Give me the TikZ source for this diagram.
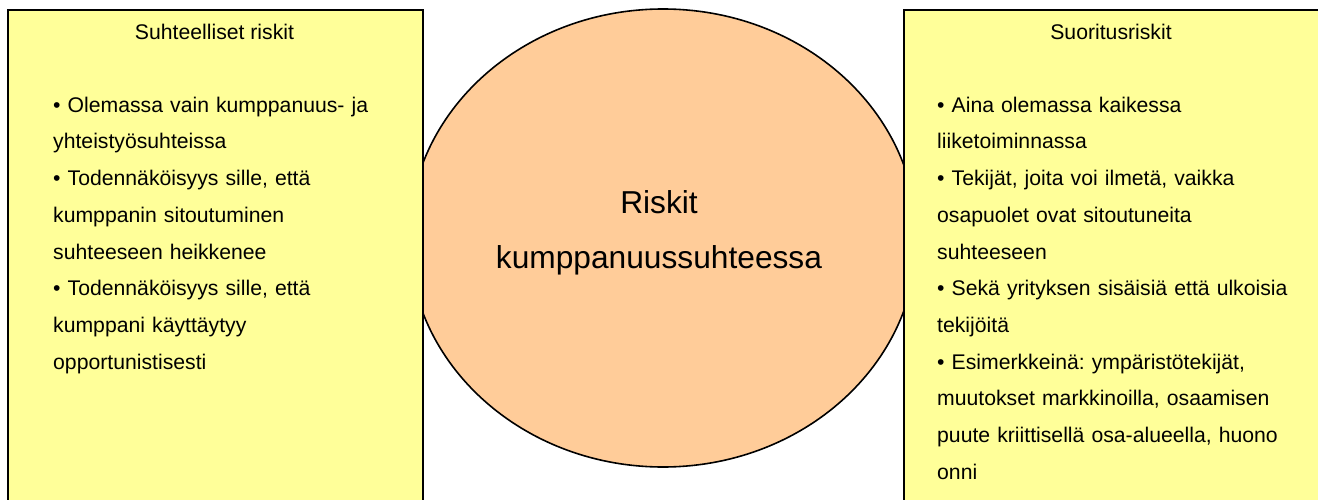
\documentclass[tikz,border=0pt]{standalone}
\usepackage{fontspec}
\setmainfont{Liberation Sans}
\usetikzlibrary{shapes.geometric}
\definecolor{paleyellow}{HTML}{FFFF99}
\definecolor{peach}{HTML}{FFCC99}
\frenchspacing
\tikzset{
  panel/.style={draw=black, line width=2pt, fill=paleyellow, rectangle,
    anchor=north west, minimum height=520pt, inner sep=0pt},
  core/.style={draw=black, line width=1.6pt, fill=peach, ellipse,
    minimum width=508pt, minimum height=458pt, inner sep=0pt},
  heading/.style={anchor=base, inner sep=0pt, font=\fontsize{21.2}{25}\selectfont},
  body/.style={anchor=base west, inner sep=0pt, align=left,
    font=\fontsize{21.2}{36.7}\selectfont},
  centre/.style={anchor=base, inner sep=0pt, align=center, text width=420pt,
    font=\fontsize{31.7}{55}\selectfont}
}
\begin{document}
\begin{tikzpicture}[x=1pt, y=-1pt]
  \useasboundingbox (0,0) rectangle (1318,500);
  \clip (0,0) rectangle (1318,500);

  % central ellipse, partly hidden behind the two panels
  \node[core] (core) at (663,238) {};
  \node[centre] (coretext) at (659,213.3) {Riskit\\kumppanuussuhteessa};

  % left panel
  \node[panel, minimum width=415pt] (lpanel) at (7,9) {};
  \node[heading] (ltitle) at (214.5,39.3) {Suhteelliset riskit};
  \node[body, text width=360pt] (lbody) at (53,112.3) {%
    • Olemassa vain kumppanuus- ja\\
    yhteistyösuhteissa\\
    • Todennäköisyys sille, että\\
    kumppanin sitoutuminen\\
    suhteeseen heikkenee\\
    • Todennäköisyys sille, että\\
    kumppani käyttäytyy\\
    opportunistisesti};

  % right panel, running past the right edge
  \node[panel, minimum width=460pt] (rpanel) at (903,9) {};
  \node[heading] (rtitle) at (1111,39.3) {Suoritusriskit};
  \node[body, text width=375pt] (rbody) at (937,112.3) {%
    • Aina olemassa kaikessa\\
    liiketoiminnassa\\
    • Tekijät, joita voi ilmetä, vaikka\\
    osapuolet ovat sitoutuneita\\
    suhteeseen\\
    • Sekä yrityksen sisäisiä että ulkoisia\\
    tekijöitä\\
    • Esimerkkeinä: ympäristötekijät,\\
    muutokset markkinoilla, osaamisen\\
    puute kriittisellä osa-alueella, huono\\
    onni};
\end{tikzpicture}
\end{document}
